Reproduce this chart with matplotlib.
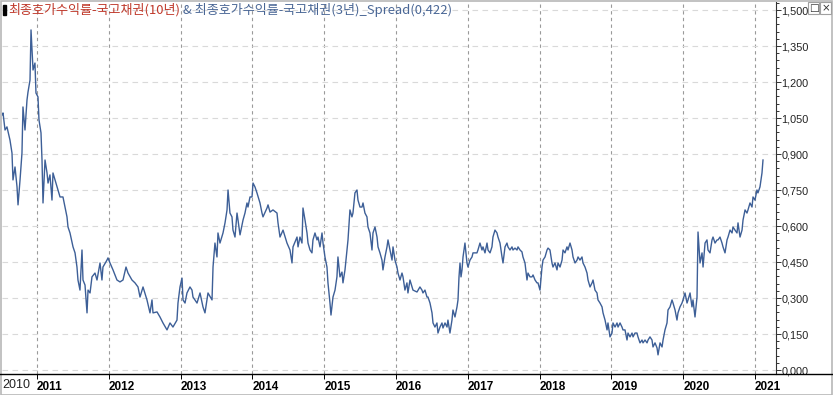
import numpy as np
import matplotlib
matplotlib.use("Agg")
import matplotlib.pyplot as plt
from matplotlib.lines import Line2D
from matplotlib.patches import Rectangle
from matplotlib.ticker import MultipleLocator, FuncFormatter

# spread (10y - 3y KTB yield), decimal year vs. %p
years = [
    2010.513, 2010.527, 2010.555, 2010.582, 2010.624, 2010.652, 2010.666, 2010.694, 2010.722, 2010.736,
    2010.764, 2010.791, 2010.805, 2010.833, 2010.861, 2010.875, 2010.903, 2010.917, 2010.945, 2010.972,
    2010.986, 2011.014, 2011.028, 2011.056, 2011.070, 2011.084, 2011.112, 2011.140, 2011.154, 2011.181,
    2011.209, 2011.223, 2011.279, 2011.321, 2011.362, 2011.418, 2011.432, 2011.460, 2011.502, 2011.530,
    2011.557, 2011.571, 2011.599, 2011.627, 2011.641, 2011.669, 2011.697, 2011.711, 2011.739, 2011.766,
    2011.808, 2011.836, 2011.878, 2011.905, 2011.919, 2011.975, 2011.989, 2012.017, 2012.059, 2012.114,
    2012.156, 2012.198, 2012.240, 2012.268, 2012.323, 2012.365, 2012.407, 2012.435, 2012.477, 2012.532,
    2012.574, 2012.602, 2012.616, 2012.672, 2012.713, 2012.755, 2012.811, 2012.853, 2012.894, 2012.950,
    2012.964, 2012.992, 2013.020, 2013.034, 2013.062, 2013.089, 2013.131, 2013.159, 2013.173, 2013.229,
    2013.271, 2013.312, 2013.340, 2013.368, 2013.382, 2013.438, 2013.452, 2013.479, 2013.507, 2013.521,
    2013.549, 2013.591, 2013.619, 2013.647, 2013.661, 2013.688, 2013.716, 2013.730, 2013.758, 2013.786,
    2013.800, 2013.828, 2013.856, 2013.870, 2013.897, 2013.925, 2013.939, 2013.967, 2013.995, 2014.009,
    2014.036, 2014.064, 2014.106, 2014.134, 2014.148, 2014.204, 2014.218, 2014.246, 2014.287, 2014.343,
    2014.357, 2014.385, 2014.427, 2014.482, 2014.524, 2014.552, 2014.566, 2014.622, 2014.636, 2014.663,
    2014.691, 2014.705, 2014.733, 2014.761, 2014.775, 2014.803, 2014.830, 2014.844, 2014.872, 2014.900,
    2014.914, 2014.942, 2014.970, 2014.984, 2015.011, 2015.039, 2015.053, 2015.081, 2015.095, 2015.123,
    2015.151, 2015.178, 2015.192, 2015.220, 2015.248, 2015.262, 2015.290, 2015.318, 2015.332, 2015.359,
    2015.387, 2015.401, 2015.429, 2015.457, 2015.471, 2015.499, 2015.527, 2015.541, 2015.568, 2015.596,
    2015.610, 2015.638, 2015.666, 2015.680, 2015.708, 2015.736, 2015.750, 2015.777, 2015.805, 2015.819,
    2015.847, 2015.875, 2015.889, 2015.917, 2015.945, 2015.959, 2015.986, 2016.014, 2016.028, 2016.056,
    2016.084, 2016.098, 2016.125, 2016.153, 2016.167, 2016.195, 2016.223, 2016.237, 2016.293, 2016.334,
    2016.362, 2016.376, 2016.404, 2016.432, 2016.446, 2016.474, 2016.502, 2016.516, 2016.543, 2016.571,
    2016.585, 2016.613, 2016.641, 2016.655, 2016.683, 2016.711, 2016.724, 2016.752, 2016.780, 2016.794,
    2016.822, 2016.850, 2016.864, 2016.878, 2016.892, 2016.906, 2016.920, 2016.934, 2016.961, 2016.989,
    2017.003, 2017.031, 2017.059, 2017.073, 2017.128, 2017.142, 2017.170, 2017.198, 2017.212, 2017.240,
    2017.268, 2017.282, 2017.310, 2017.337, 2017.351, 2017.379, 2017.407, 2017.421, 2017.449, 2017.477,
    2017.491, 2017.519, 2017.546, 2017.560, 2017.588, 2017.616, 2017.630, 2017.658, 2017.686, 2017.700,
    2017.728, 2017.755, 2017.769, 2017.797, 2017.825, 2017.839, 2017.867, 2017.895, 2017.909, 2017.937,
    2017.964, 2017.978, 2018.006, 2018.034, 2018.048, 2018.076, 2018.104, 2018.118, 2018.145, 2018.173,
    2018.187, 2018.215, 2018.243, 2018.257, 2018.285, 2018.313, 2018.327, 2018.354, 2018.382, 2018.396,
    2018.424, 2018.452, 2018.466, 2018.494, 2018.522, 2018.536, 2018.563, 2018.591, 2018.605, 2018.633,
    2018.661, 2018.675, 2018.703, 2018.731, 2018.745, 2018.772, 2018.800, 2018.814, 2018.842, 2018.870,
    2018.884, 2018.912, 2018.940, 2018.953, 2018.981, 2019.009, 2019.023, 2019.051, 2019.079, 2019.093,
    2019.121, 2019.148, 2019.162, 2019.190, 2019.218, 2019.232, 2019.260, 2019.288, 2019.302, 2019.329,
    2019.357, 2019.371, 2019.399, 2019.427, 2019.441, 2019.469, 2019.497, 2019.511, 2019.538, 2019.566,
    2019.580, 2019.608, 2019.636, 2019.650, 2019.678, 2019.706, 2019.720, 2019.747, 2019.775, 2019.789,
    2019.817, 2019.845, 2019.859, 2019.887, 2019.914, 2019.928, 2019.956, 2019.984, 2019.998, 2020.026,
    2020.054, 2020.068, 2020.096, 2020.123, 2020.137, 2020.165, 2020.193, 2020.207, 2020.235, 2020.263,
    2020.277, 2020.305, 2020.332, 2020.346, 2020.374, 2020.402, 2020.416, 2020.444, 2020.472, 2020.486,
    2020.513, 2020.541, 2020.555, 2020.583, 2020.611, 2020.625, 2020.653, 2020.681, 2020.694, 2020.722,
    2020.750, 2020.764, 2020.792, 2020.820, 2020.834, 2020.862, 2020.889, 2020.903, 2020.931, 2020.959,
    2020.973, 2021.000, 2021.028, 2021.042, 2021.070, 2021.098, 2021.112,
]
spread = [
    1.063, 1.071, 1.000, 1.013, 0.958, 0.904, 0.792, 0.846, 0.763, 0.688,
    0.792, 0.904, 1.096, 1.000, 1.125, 1.158, 1.208, 1.417, 1.250, 1.279,
    1.154, 1.138, 1.042, 0.988, 0.875, 0.696, 0.875, 0.821, 0.779, 0.813,
    0.708, 0.821, 0.763, 0.721, 0.721, 0.638, 0.596, 0.571, 0.513, 0.488,
    0.429, 0.375, 0.333, 0.500, 0.375, 0.354, 0.238, 0.333, 0.321, 0.388,
    0.404, 0.375, 0.446, 0.375, 0.429, 0.458, 0.467, 0.446, 0.417, 0.375,
    0.367, 0.375, 0.429, 0.404, 0.375, 0.363, 0.346, 0.304, 0.346, 0.292,
    0.238, 0.292, 0.238, 0.242, 0.221, 0.196, 0.167, 0.196, 0.179, 0.208,
    0.279, 0.346, 0.383, 0.292, 0.279, 0.321, 0.346, 0.333, 0.304, 0.279,
    0.321, 0.263, 0.238, 0.292, 0.321, 0.292, 0.429, 0.529, 0.471, 0.571,
    0.529, 0.571, 0.613, 0.667, 0.750, 0.654, 0.638, 0.583, 0.554, 0.654,
    0.625, 0.563, 0.604, 0.625, 0.654, 0.696, 0.679, 0.721, 0.721, 0.779,
    0.763, 0.738, 0.696, 0.654, 0.638, 0.675, 0.688, 0.658, 0.667, 0.654,
    0.613, 0.554, 0.583, 0.529, 0.500, 0.446, 0.513, 0.554, 0.513, 0.554,
    0.529, 0.675, 0.625, 0.571, 0.529, 0.500, 0.488, 0.542, 0.571, 0.542,
    0.554, 0.513, 0.571, 0.529, 0.471, 0.429, 0.363, 0.279, 0.229, 0.304,
    0.333, 0.388, 0.471, 0.388, 0.408, 0.363, 0.417, 0.500, 0.542, 0.667,
    0.638, 0.654, 0.738, 0.750, 0.708, 0.679, 0.679, 0.696, 0.654, 0.638,
    0.596, 0.571, 0.500, 0.571, 0.596, 0.554, 0.513, 0.488, 0.458, 0.417,
    0.471, 0.513, 0.542, 0.500, 0.458, 0.513, 0.458, 0.429, 0.404, 0.375,
    0.404, 0.388, 0.333, 0.363, 0.321, 0.375, 0.346, 0.333, 0.325, 0.346,
    0.333, 0.321, 0.333, 0.304, 0.304, 0.279, 0.238, 0.196, 0.179, 0.196,
    0.154, 0.179, 0.196, 0.175, 0.196, 0.179, 0.208, 0.154, 0.208, 0.250,
    0.221, 0.263, 0.292, 0.388, 0.446, 0.388, 0.417, 0.471, 0.529, 0.446,
    0.429, 0.458, 0.471, 0.488, 0.488, 0.500, 0.529, 0.500, 0.513, 0.488,
    0.529, 0.500, 0.488, 0.513, 0.554, 0.583, 0.571, 0.554, 0.529, 0.471,
    0.446, 0.513, 0.529, 0.513, 0.500, 0.513, 0.500, 0.508, 0.500, 0.513,
    0.500, 0.492, 0.471, 0.446, 0.375, 0.404, 0.388, 0.388, 0.396, 0.375,
    0.363, 0.363, 0.333, 0.429, 0.458, 0.471, 0.500, 0.508, 0.500, 0.446,
    0.429, 0.446, 0.417, 0.446, 0.429, 0.458, 0.500, 0.488, 0.513, 0.500,
    0.529, 0.500, 0.471, 0.446, 0.458, 0.471, 0.458, 0.471, 0.446, 0.429,
    0.404, 0.375, 0.346, 0.363, 0.375, 0.333, 0.321, 0.292, 0.279, 0.263,
    0.238, 0.208, 0.167, 0.196, 0.138, 0.154, 0.196, 0.179, 0.196, 0.179,
    0.196, 0.179, 0.167, 0.167, 0.125, 0.154, 0.138, 0.154, 0.138, 0.154,
    0.154, 0.138, 0.113, 0.125, 0.113, 0.125, 0.113, 0.125, 0.138, 0.125,
    0.096, 0.113, 0.092, 0.063, 0.113, 0.096, 0.125, 0.167, 0.196, 0.250,
    0.263, 0.292, 0.279, 0.250, 0.208, 0.238, 0.263, 0.279, 0.292, 0.321,
    0.279, 0.292, 0.321, 0.263, 0.292, 0.221, 0.304, 0.575, 0.446, 0.488,
    0.429, 0.529, 0.542, 0.500, 0.488, 0.542, 0.554, 0.529, 0.542, 0.542,
    0.554, 0.529, 0.513, 0.488, 0.542, 0.554, 0.583, 0.571, 0.596, 0.583,
    0.571, 0.613, 0.554, 0.583, 0.625, 0.667, 0.654, 0.667, 0.696, 0.679,
    0.721, 0.708, 0.750, 0.738, 0.763, 0.821, 0.875,
]
year_ticks = list(range(2011, 2022))
title_red = "최종호가수익률-국고채권(10년)"
title_blue = " & 최종호가수익률-국고채권(3년)_Spread(0,422)"

W, H = 833, 395
fig = plt.figure(figsize=(W / 100, H / 100), dpi=100)
fig.patch.set_facecolor("white")

# axes box in pixel terms: x 2..776, y 2..374
ax = fig.add_axes([2 / W, 1 - 374 / H, 774 / W, 372 / H])
ax.plot(years, spread, color="#3d5f97", lw=1.0)

ax.set_xlim(2010.485 + 2 * 0.013928, 2010.485 + 776 * 0.013928)
ax.set_ylim(-4 / 240, 368 / 240)

for s in ["left", "top", "bottom"]:
    ax.spines[s].set_visible(False)
ax.spines["right"].set_color("#333333")
ax.spines["right"].set_linewidth(0.8)

narrow = ["Liberation Sans Narrow", "Liberation Sans", "DejaVu Sans"]

# right y axis
ax.yaxis.tick_right()
ax.yaxis.set_major_locator(MultipleLocator(0.15))
ax.yaxis.set_minor_locator(MultipleLocator(0.03))
ax.yaxis.set_major_formatter(FuncFormatter(lambda v, p: f"{v:.3f}".replace(".", ",")))
ax.tick_params(axis="y", which="major", direction="out", length=3.5, width=0.7,
               color="#333333", pad=0.5, labelsize=7.8)
ax.tick_params(axis="y", which="minor", direction="out", length=2.5, width=0.7, color="#333333")
for lbl in ax.get_yticklabels():
    lbl.set_family(narrow)
    lbl.set_color("#222222")

# x axis: year ticks
ax.set_xticks(year_ticks)
ax.set_xticklabels([str(y) for y in year_ticks])
ax.tick_params(axis="x", direction="out", length=3.5, width=0.7, color="black", pad=1.5,
               labelsize=8.5)
for lbl in ax.get_xticklabels():
    lbl.set_ha("left")
    lbl.set_fontweight("bold")
    lbl.set_family(["Liberation Sans", "DejaVu Sans"])
ax.text(0.001, -0.013, "2010", transform=ax.transAxes, ha="left", va="top",
        fontsize=9, family=narrow, color="#222222")

# grids
ax.grid(axis="x", color="#9a9a9a", ls=(0, (3, 3)), lw=0.8)
ax.grid(axis="y", color="#d9d9d9", ls=(0, (5, 4)), lw=0.8)
ax.set_axisbelow(True)

# full-width bottom axis line and outer frame
fig.add_artist(Line2D([0, 1], [1 - 374 / H, 1 - 374 / H], color="black", lw=1.0))
fig.add_artist(Rectangle((0.5 / W, 0.5 / H), 1 - 1.5 / W, 1 - 1.0 / H, fill=False,
                         edgecolor="#b8b8b8", lw=1.2, transform=fig.transFigure))

# title
fig.add_artist(Rectangle((3 / W, 1 - 15 / H), 3 / W, 10 / H, color="black",
                         transform=fig.transFigure))
cjk = ["Noto Sans CJK KR", "DejaVu Sans"]
t1 = fig.text(8 / W, 1 - 10 / H, title_red, color="#c0392b", fontsize=9.4,
              family=cjk, va="center", ha="left")
fig.canvas.draw()
bb = t1.get_window_extent()
fig.text(bb.x1 / W, 1 - 10 / H, title_blue, color="#4a6796", fontsize=9.4,
         family=cjk, va="center", ha="left")

# window buttons top-right
for i, sym in enumerate(["□", "×"]):
    x0 = 808 + i * 12
    fig.add_artist(Rectangle((x0 / W, 1 - 14 / H), 11 / W, 12 / H, facecolor="white",
                             edgecolor="#a0a0a0", lw=0.8, transform=fig.transFigure))
    fig.text((x0 + 5.5) / W, 1 - 8 / H, sym, fontsize=7.5, ha="center", va="center",
             color="#333333", family=["DejaVu Sans"])

fig.savefig("out.png", dpi=100, facecolor="white")
